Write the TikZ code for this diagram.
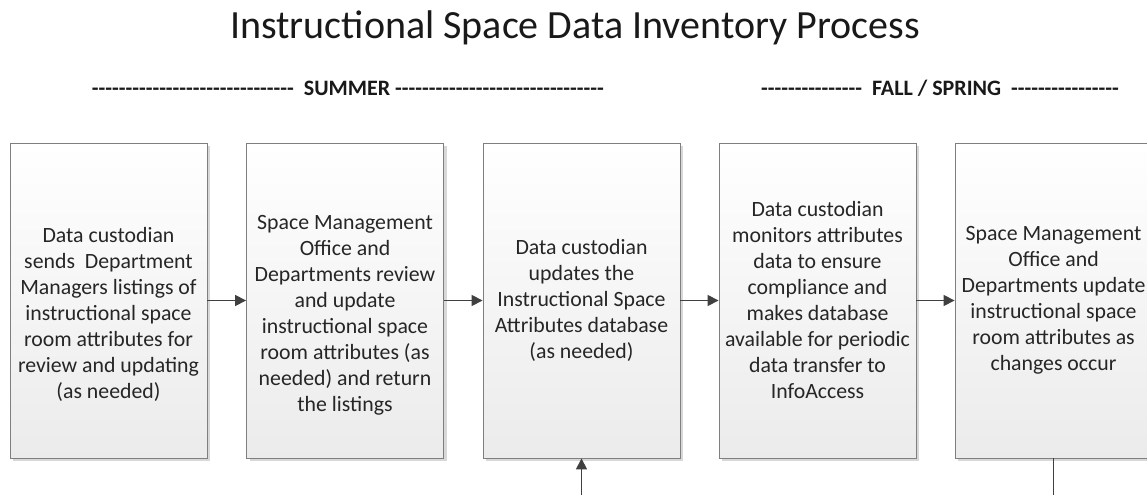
\documentclass[tikz,border=0pt]{standalone}
\usepackage{fontspec}
\setmainfont{Carlito}
\usetikzlibrary{shadows,arrows.meta}
\definecolor{boxline}{HTML}{7F7F7F}
\definecolor{boxbot}{HTML}{EBEBEB}
\definecolor{arrowc}{HTML}{404040}
\newcommand\dashrun[1]{\foreach \k in {1,...,#1}{-\kern0pt}}
\tikzset{
  procbox/.style={draw=boxline, line width=0.9pt, top color=white, bottom color=boxbot,
    minimum width=197pt, minimum height=315pt, inner sep=0pt, align=center,
    font=\fontsize{21.8}{26}\selectfont, text=black!85,
    drop shadow={shadow xshift=3pt, shadow yshift=-3pt, fill=black!25, opacity=0.6}},
  flow/.style={draw=arrowc, line width=1.6pt, -{Triangle[length=11pt,width=11pt]}},
  plain/.style={draw=arrowc, line width=1.6pt},
  title/.style={font=\fontsize{40}{44}\selectfont, text=black!90},
  season/.style={font=\bfseries\fontsize{22}{25}\selectfont, text=black!90}
}
\begin{document}
\begin{tikzpicture}[x=1pt,y=1pt]
\useasboundingbox (0,0) rectangle (1147,495);
\fill[white] (0,0) rectangle (1147,495);
\node[title, anchor=base] (title) at (575,456) {Instructional Space Data Inventory Process};
\node[season, anchor=base] (summer) at (348,399) {\dashrun{30}\ \ SUMMER \dashrun{31}};
\node[season, anchor=base] (fall) at (940,399) {\dashrun{15}\ \ FALL / SPRING \ \dashrun{16}};

\node[procbox] (b1) at (108.5,194.5) {\rule{0pt}{17pt}\\Data custodian\\sends \ Department\\Managers listings of\\instructional space\\room attributes for\\review and updating\\(as needed)};
\node[procbox] (b2) at (345,194.5) {\rule{0pt}{17pt}\\Space Management\\Office and\\Departments review\\and update\\instructional space\\room attributes (as\\needed) and return\\the listings};
\node[procbox] (b3) at (581.5,194.5) {Data custodian\\updates the\\Instructional Space\\Attributes database\\(as needed)};
\node[procbox] (b4) at (817.5,194.5) {Data custodian\\monitors attributes\\data to ensure\\compliance and\\makes database\\available for periodic\\data transfer to\\InfoAccess};
\node[procbox] (b5) at (1053.5,194.5) {Space Management\\Office and\\Departments update\\instructional space\\room attributes as\\changes occur};

\coordinate (in3) at (581.5,0);
\coordinate (out5) at (1053.5,0);
\draw[flow] (b1.east) -- (b2.west);
\draw[flow] (b2.east) -- (b3.west);
\draw[flow] (b3.east) -- (b4.west);
\draw[flow] (b4.east) -- (b5.west);
\draw[flow] (in3) -- (b3.south);
\draw[plain] (b5.south) -- (out5);
\end{tikzpicture}
\end{document}
